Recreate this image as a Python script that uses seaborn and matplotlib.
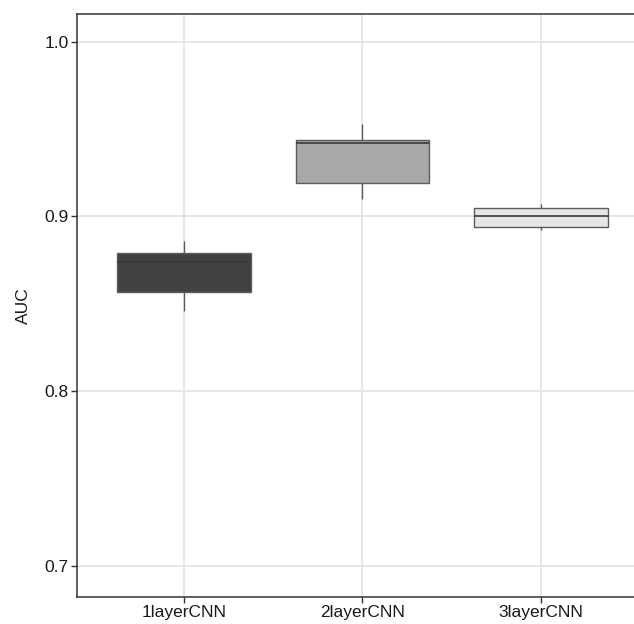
import numpy as np
import pandas as pd
import matplotlib
matplotlib.use("Agg")
import matplotlib.pyplot as plt
import seaborn as sns

# values: whisker low, q1, median, q3, whisker high
models = ["1layerCNN", "2layerCNN", "3layerCNN"]
auc_1layer = [0.846, 0.857, 0.874, 0.879, 0.886]
auc_2layer = [0.910, 0.919, 0.942, 0.944, 0.953]
auc_3layer = [0.892, 0.894, 0.900, 0.905, 0.907]
box_colors = ["#414141", "#a8a8a8", "#e6e6e6"]

df = pd.DataFrame({
    "model": np.repeat(models, 5),
    "AUC": auc_1layer + auc_2layer + auc_3layer,
})

sns.set_style("white")
plt.rcParams["font.family"] = ["Liberation Sans", "DejaVu Sans"]

fig = plt.figure(figsize=(6.34, 6.24), dpi=100)
# right edge sits outside the image, the reference is cropped there
ax = fig.add_axes([77 / 634, 27 / 624, 571 / 634, 583 / 624])

sns.boxplot(data=df, x="model", y="AUC", hue="model", palette=box_colors,
            order=models, width=0.75, linecolor="#5c5c5c", linewidth=1.0,
            whis=1.5, showfliers=False, showcaps=False, legend=False, ax=ax,
            medianprops={"color": "#3a3a3a", "linewidth": 1.2})

ax.grid(True, axis="both", color="#e4e4e4", linewidth=1.3)
ax.set_axisbelow(True)

ax.set_xlim(-0.6, 2.6)
ax.set_ylim(0.682, 1.016)
ax.set_yticks([0.7, 0.8, 0.9, 1.0])
ax.set_yticklabels(["0.7", "0.8", "0.9", "1.0"])
ax.set_xlabel("")
ax.set_ylabel("AUC", fontsize=12.5, color="#1a1a1a", labelpad=10)
ax.tick_params(axis="both", bottom=True, left=True, length=4, width=1,
               color="#333333", labelsize=12.5, labelcolor="#1a1a1a",
               direction="out", pad=2)

for side in ["left", "bottom", "top"]:
    ax.spines[side].set_visible(True)
    ax.spines[side].set_color("#333333")
    ax.spines[side].set_linewidth(1.1)
ax.spines["right"].set_visible(False)

fig.savefig("out.png", dpi=100)
